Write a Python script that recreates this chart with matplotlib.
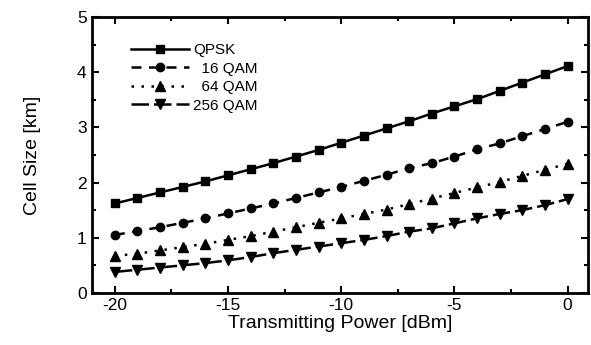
import matplotlib
matplotlib.use("Agg")
import matplotlib.pyplot as plt
from matplotlib.ticker import MultipleLocator

plt.rcParams['font.family'] = ['Liberation Sans', 'DejaVu Sans']
plt.rcParams['axes.unicode_minus'] = False

# Transmitting power [dBm]
power = [-20, -19, -18, -17, -16, -15, -14, -13, -12, -11, -10,
         -9, -8, -7, -6, -5, -4, -3, -2, -1, 0]

# cell size [km]
qpsk = [1.62, 1.72, 1.82, 1.92, 2.02, 2.13, 2.24, 2.35, 2.47, 2.59, 2.72,
        2.85, 2.98, 3.11, 3.25, 3.38, 3.51, 3.66, 3.81, 3.96, 4.11]
qam16 = [1.05, 1.12, 1.19, 1.27, 1.35, 1.44, 1.53, 1.62, 1.72, 1.82, 1.92,
         2.03, 2.14, 2.26, 2.35, 2.47, 2.60, 2.71, 2.84, 2.97, 3.10]
qam64 = [0.67, 0.71, 0.77, 0.83, 0.89, 0.96, 1.03, 1.11, 1.19, 1.27, 1.35,
         1.43, 1.51, 1.61, 1.71, 1.81, 1.91, 2.01, 2.12, 2.23, 2.34]
qam256 = [0.38, 0.42, 0.46, 0.50, 0.54, 0.59, 0.65, 0.72, 0.78, 0.84, 0.90,
          0.96, 1.03, 1.11, 1.17, 1.26, 1.35, 1.43, 1.50, 1.59, 1.70]

labels = ['QPSK', '  16 QAM', '  64 QAM', '256 QAM']

fig = plt.figure(figsize=(5.91, 3.45), dpi=100)
ax = fig.add_axes([0.156, 0.151, 0.839, 0.80])

ax.plot(power, qpsk, color='black', lw=1.8, ls='-', marker='s', ms=6, label=labels[0])
ax.plot(power, qam16, color='black', lw=1.8, ls=(0, (4, 3)), marker='o', ms=6, label=labels[1])
ax.plot(power, qam64, color='black', lw=1.8, ls=(0, (1, 3)), marker='^', ms=7, label=labels[2])
ax.plot(power, qam256, color='black', lw=1.8, ls=(0, (7, 2)), marker='v', ms=7, label=labels[3])

ax.set_xlim(-21, 0.9)
ax.set_ylim(0, 5)
ax.xaxis.set_major_locator(MultipleLocator(5))
ax.xaxis.set_minor_locator(MultipleLocator(2.5))
ax.yaxis.set_major_locator(MultipleLocator(1))
ax.yaxis.set_minor_locator(MultipleLocator(0.5))
ax.tick_params(which='both', direction='in', top=True, right=True, width=1.5)
ax.tick_params(which='major', length=5, labelsize=12.5, pad=4)
ax.tick_params(which='minor', length=3)
for s in ax.spines.values():
    s.set_linewidth(2)

ax.set_xlabel('Transmitting Power [dBm]', fontsize=14, labelpad=1)
ax.set_ylabel('Cell Size [km]', fontsize=14, labelpad=26)

ax.legend(loc='upper left', bbox_to_anchor=(0.05, 0.955), frameon=False,
          handlelength=3.8, handletextpad=0.3, labelspacing=0.3, fontsize=11)

plt.savefig('out.png', dpi=100)
